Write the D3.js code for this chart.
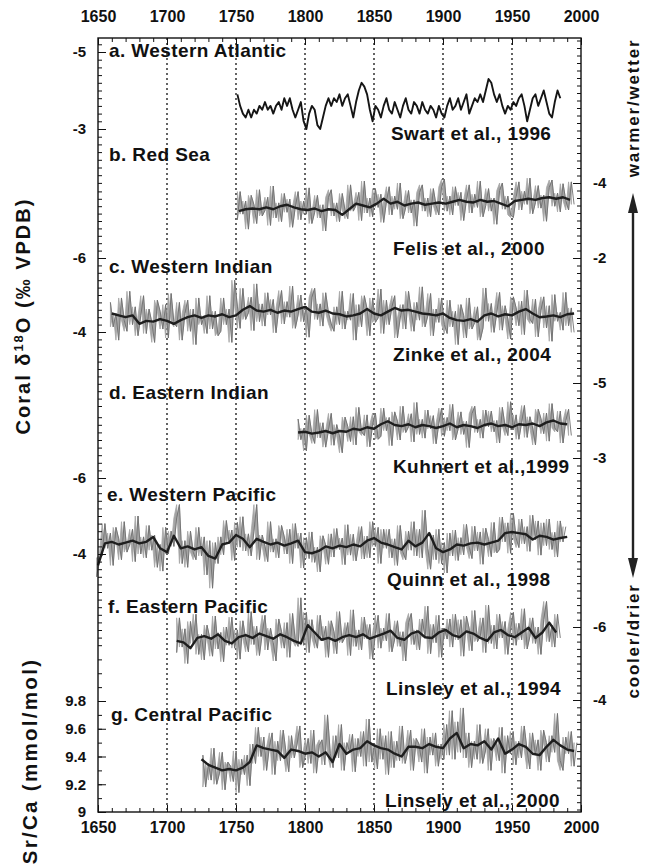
<!DOCTYPE html>
<html>
<head>
<meta charset="utf-8">
<script src="https://d3js.org/d3.v7.min.js"></script>
<style>
  body { margin: 0; background: #fff; }
  svg { display: block; font-family: "Liberation Sans", Arial, sans-serif; font-weight: bold; }
</style>
</head>
<body>
<svg></svg>
<script>
// ---- data ----
const yearTicks = [1650, 1700, 1750, 1800, 1850, 1900, 1950, 2000];
const gridYears = [1700, 1750, 1800, 1850, 1900, 1950];

const panelLabels = ["a. Western Atlantic", "b. Red Sea", "c. Western Indian", "d. Eastern Indian",
    "e. Western Pacific", "f. Eastern Pacific", "g. Central Pacific"];
const citeLabels = ["Swart et al., 1996", "Felis et al., 2000", "Zinke et al., 2004", "Kuhnert et al.,1999",
    "Quinn et al., 1998", "Linsley et al., 1994", "Linsely et al., 2000"];

const ticksA = [-5, -3];
const ticksB = [-4, -2];
const ticksC = [-6, -4];
const ticksD = [-5, -3];
const ticksE = [-6, -4];
const ticksF = [-6, -4];
const ticksG = [9, 9.2, 9.4, 9.6, 9.8];

// a. Western Atlantic (Swart), 1751-1985
const atlanticYears = [1751, 1985];
const atlanticValues = [-3.9,-3.6,-3.4,-3.3,-3.5,-3.3,-3.5,-3.4,-3.6,-3.5,
    -3.7,-3.5,-3.6,-3.4,-3.6,-3.7,-3.5,-3.8,-3.6,-3.8,
    -3.5,-3.3,-3.5,-3.7,-3.2,-3.0,-3.4,-3.6,-3.5,-3.1,
    -3.0,-3.3,-3.6,-3.8,-3.6,-3.8,-3.7,-3.9,-3.6,-3.8,
    -3.9,-3.6,-3.3,-3.7,-4.0,-4.2,-4.1,-3.9,-3.5,-3.2,
    -3.6,-3.5,-3.3,-3.6,-3.8,-3.5,-3.4,-3.7,-3.5,-3.3,
    -3.6,-3.8,-3.5,-3.4,-3.7,-3.6,-3.4,-3.7,-3.5,-3.4,
    -3.6,-3.5,-3.3,-3.6,-3.4,-3.3,-3.6,-3.8,-3.5,-3.6,
    -3.8,-3.5,-3.7,-3.9,-3.4,-3.6,-3.8,-3.7,-3.9,-3.7,
    -4.0,-4.3,-4.2,-3.9,-3.7,-3.9,-3.6,-3.4,-3.6,-3.5,
    -3.7,-3.6,-3.8,-3.9,-3.6,-3.2,-3.5,-3.8,-3.9,-3.6,
    -3.8,-4.0,-3.7,-3.4,-3.3,-3.7,-4.0,-3.8];

// b. Red Sea (Felis)
const redSeaRawYears = [1751, 1995];
const redSeaRaw = [-3.02,-3.77,-3.17,-3.52,-2.77,-3.67,-3.42,-2.92,-3.82,-3.12,
    -3.27,-3.62,-2.87,-3.92,-3.07,-3.47,-2.97,-3.72,-3.22,-3.57,
    -2.82,-3.37,-3.77,-3.02,-3.52,-3.17,-3.87,-2.92,-3.22,-3.67,
    -3.07,-3.42,-2.72,-3.62,-3.82,-3.12,-3.47,-2.97,-3.72,-3.27,
    -3.05,-3.95,-3.25,-3.4,-3.75,-3.0,-4.05,-3.2,-3.6,-3.1,
    -3.85,-3.35,-3.7,-2.95,-3.5,-3.9,-3.15,-3.65,-3.3,-4.0,
    -3.05,-3.35,-3.8,-3.2,-3.55,-2.85,-3.75,-3.95,-3.25,-3.6,
    -3.1,-3.85,-3.4,-3.15,-3.9,
    -4.1,-3.25,-3.65,-3.15,-3.9,-3.4,-3.75,-3.0,-3.55,-3.95,
    -3.2,-3.7,-3.35,-4.05,-3.1,-3.4,-3.85,-3.25,-3.6,-2.9,
    -3.8,-4.0,-3.3,-3.65,-3.15,
    -3.08,-3.63,-4.03,-3.28,-3.78,-3.43,-4.13,-3.18,-3.48,-3.93,
    -3.33,-3.68,-2.98,-3.88,-4.08,-3.38,-3.73,-3.23,-3.98,-3.53,
    -3.28,-4.03,-3.43];
const redSeaSmoothYears = [1752, 1992];
const redSeaSmooth = [-3.25,-3.30,-3.32,-3.30,-3.35,-3.30,-3.38,-3.42,-3.35,-3.30,
    -3.28,-3.32,-3.25,-3.30,-3.28,-3.15,-3.30,-3.45,-3.40,-3.35,
    -3.45,-3.58,-3.45,-3.50,-3.40,-3.45,-3.48,-3.42,-3.45,-3.48,
    -3.45,-3.50,-3.55,-3.50,-3.48,-3.55,-3.50,-3.52,-3.45,-3.38,
    -3.52,-3.55,-3.58,-3.55,-3.60,-3.62,-3.58,-3.62,-3.55];

// c. Western Indian (Zinke)
const westIndianRawYears = [1659, 1995];
const westIndianRaw = [-4.8,-4.14,-4.5,-3.78,-4.92,-4.32,-4.02,-5.1,-4.2,-4.68,
    -3.9,-4.44,-4.98,-3.96,-4.62,-4.26,-3.72,-4.86,-4.56,-4.08,
    -4.74,-3.84,-5.04,-4.26,-4.14,-4.8,-3.78,-4.5,-4.86,-4.02,
    -4.62,-3.66,-4.92,-4.2,-4.44,-3.96,-4.98,-4.08,-4.56,-3.9,
    -4.02,-4.92,-4.2,-4.62,-3.72,-5.4,
    -4.7,-4.1,-5.18,-4.34,-4.52,-4.94,-4.04,-5.3,-4.28,-4.76,
    -4.16,-5.06,-4.46,-4.88,-3.98,-4.64,-5.12,-4.22,-4.82,-4.4,
    -5.24,-4.1,-4.46,-5.0,-4.28,-4.7,-3.86,-4.94,-5.18,-4.34,
    -4.76,-4.16,-5.06,-4.52,-4.22,
    -4.02,-4.68,-4.2,-5.1,-4.08,-4.56,-4.32,-5.04,-3.78,-4.74,
    -4.14,-4.98,-4.62,-3.9,-4.92,-4.26,-4.38,-5.16,-3.96,-4.86,
    -4.2,-4.68,-4.98,-3.84,-4.38,-4.74,-4.08,-5.1,-4.56,-4.02,
    -4.8,-4.32,-5.22,-4.14,-4.44,-5.04,-3.9,-4.62,-4.26,-4.92,
    -4.2,
    -3.96,-4.86,-4.14,-4.56,-3.66,-4.74,-4.44,-3.84,-4.92,-4.08,
    -4.26,-4.68,-3.78,
    -4.11,-5.19,-4.29,-4.77,-3.99,-4.53,-5.07,-4.05,-4.71,-4.35,
    -3.81,-4.95,-4.65,-4.17,-4.83,-3.93,-5.13,-4.35,-4.23,-4.89,
    -3.87,-4.59,-4.95,-4.11,-4.71,-3.75,-5.01,-4.29,-4.53,-4.05,
    -5.07,-4.17,-4.65,-3.99];
const westIndianSmoothYears = [1660, 1995];
const westIndianSmooth = [-4.50,-4.45,-4.40,-4.45,-4.22,-4.30,-4.28,-4.35,-4.30,-4.22,
    -4.32,-4.40,-4.45,-4.38,-4.45,-4.42,-4.48,-4.40,-4.45,-4.60,
    -4.70,-4.58,-4.55,-4.60,-4.52,-4.58,-4.55,-4.62,-4.68,-4.55,
    -4.52,-4.58,-4.50,-4.48,-4.42,-4.45,-4.50,-4.62,-4.50,-4.45,
    -4.55,-4.65,-4.58,-4.60,-4.55,-4.50,-4.48,-4.45,-4.50,-4.38,
    -4.32,-4.30,-4.35,-4.28,-4.45,-4.50,-4.42,-4.48,-4.45,-4.55,
    -4.62,-4.50,-4.40,-4.42,-4.45,-4.40,-4.48,-4.50];

// d. Eastern Indian (Kuhnert)
const eastIndianRawYears = [1795, 1993];
const eastIndianRaw = [-4.04,-3.49,-3.79,-3.19,-4.14,-3.64,-3.39,-4.29,-3.54,-3.94,
    -3.29,-3.74,-4.19,-3.34,-3.89,-3.59,-3.14,-4.09,-3.84,-3.44,
    -4.1,-3.35,-4.35,-3.7,-3.6,-4.15,-3.3,-3.9,-4.2,-3.5,
    -3.58,-4.33,-3.73,-4.08,-3.33,-4.23,-3.98,-3.48,-4.38,-3.68,
    -3.83,-4.18,-3.43,-4.48,-3.63,-4.03,-3.53,-4.28,-3.78,-4.13,
    -3.38,-3.93,-4.33,-3.58,-4.08,-3.73,-4.43,-3.48,-3.78,-4.23,
    -3.63,-3.98,-3.28,-4.18,-4.38,-3.68,-4.03,-3.53,-4.28,-3.83,
    -4.25,-3.7,-4.0,-3.4,-4.35,-3.85,-3.6,-4.5,-3.75,-4.15,
    -3.5,-3.95,-4.4,-3.55,-4.1,-3.8,-3.35,-4.3,-4.05,-3.65,
    -4.2,-3.45,-4.45,-3.8,-3.7,-4.25,-3.4,-4.0,-4.3,-3.6];
const eastIndianSmoothYears = [1795, 1990];
const eastIndianSmooth = [-3.68,-3.70,-3.65,-3.68,-3.72,-3.66,-3.72,-3.70,-3.78,-3.75,
    -3.82,-3.78,-3.90,-3.98,-3.88,-3.85,-3.90,-3.82,-3.88,-3.85,
    -3.80,-3.85,-3.92,-3.82,-3.88,-3.85,-3.80,-3.88,-3.92,-3.85,
    -3.88,-3.82,-3.90,-3.88,-3.92,-3.85,-3.95,-4.00,-3.92,-3.90];

// e. Western Pacific (Quinn)
const westPacificRawYears = [1649, 1989];
const westPacificRaw = [-3.4,-3.9,
    -3.95,-4.8,-4.15,-4.55,-3.7,-4.7,-4.4,-3.85,-4.85,-4.05,-4.25,-4.65,-3.8,-5.0,-4.0,-4.45,-3.9,-4.75,
    -4.1,-4.5,-3.65,-4.25,-3.55,-4.7,
    -4.0,-4.6,-4.2,-4.95,
    -5.3,-3.75,-4.35,-3.65,-4.6,-4.05,-3.85,-4.7,-3.95,-4.45,
    -3.45,-4.35,-3.1,-4.3,-3.75,-4.45,
    -3.98,-4.88,-4.28,-4.63,-3.83,-4.83,-4.18,-4.98,-4.08,-4.53,
    -3.95,-4.6,-5.3,-3.85,-4.5,-4.2,-3.8,-4.85,-4.05,-4.4,-3.9,-4.75,-4.45,-4.0,-4.65,-3.75,-4.8,-4.15,-4.55,
    -3.63,-4.43,-3.88,-4.58,-3.78,-4.18,-3.53,-4.48,-4.23,-3.73,-4.53,
    -3.92,-4.67,-4.12,-4.42,-3.72,-4.77,-3.97,-4.52,-3.82,-4.27,-4.72,-3.87,-4.47,
    -3.9,-4.85,-4.2,-4.7,-3.75,-4.65,-4.15,
    -4.65,-3.9,-4.4,-3.7,-4.75,-4.05,-3.85,-4.6,-4.1,
    -4.85,-3.95,-4.65,-3.9,-5.15,-4.15,
    -3.6,-4.5,-3.85,-4.65,-3.75,-4.3,-3.5,-4.55,-3.95,
    -4.63,-3.83,-4.43,-3.98,-4.78,-4.18,-3.88,-4.73,-4.08,-4.58,-3.73,-4.68,-4.38,-3.93,-4.83,-4.03,
    -4.12,-4.97,-4.32,-4.82,-4.02,-5.07,-4.42,-4.17,-4.92,-4.27,-4.72,-4.07,-5.02,-4.37,-4.87,
    -3.97,-4.82,-4.22,-4.92,-4.12,-4.57,-3.92,-4.87,-4.32,-4.72];
const westPacificSmoothYears = [1650, 1990];
const westPacificSmooth = [-3.70,-4.28,-4.32,-4.25,-4.30,-4.35,-4.28,-4.32,-4.45,-4.15,
    -4.05,-4.48,-4.15,-4.20,-4.12,-4.18,-3.95,-3.88,-4.25,-4.30,
    -4.50,-4.40,-4.18,-4.40,-4.32,-4.25,-4.30,-4.22,-4.28,-4.35,
    -4.05,-4.02,-4.08,-4.20,-4.15,-4.22,-4.18,-4.25,-4.20,-4.35,
    -4.42,-4.30,-4.25,-4.18,-4.12,-4.35,-4.20,-4.30,-4.55,-4.15,
    -4.05,-4.12,-4.25,-4.22,-4.28,-4.30,-4.25,-4.30,-4.35,-4.55,
    -4.58,-4.55,-4.52,-4.38,-4.48,-4.45,-4.38,-4.42,-4.45];

// f. Eastern Pacific (Linsley 1994)
const eastPacificRawYears = [1707, 1985];
const eastPacificRaw = [-5.3,-6.25,-5.45,-5.95,-5.0,-6.15,-5.55,-6.35,-5.25,-5.8,
    -5.1,-6.05,-5.7,-5.2,-6.3,-5.4,-5.85,-5.05,-6.0,-5.5,
    -6.27,-5.42,-5.92,-5.12,-6.17,-5.67,-5.32,-6.42,-5.52,-6.02,
    -5.22,-5.82,-6.32,-5.37,-5.97,-5.57,-5.07,-6.22,-5.87,-5.42,
    -6.12,-5.17,-6.37,-5.62,-5.47,
    -6.8,-5.5,-6.4,-5.3,-6.2,-5.7,
    -5.42,-6.32,-5.62,-6.02,-5.17,-6.17,-5.87,-5.27,-6.42,-5.57,
    -5.72,-6.12,-5.22,-6.47,-5.47,-5.92,-5.37,-6.27,-5.67,-6.07,
    -5.12,-5.82,-6.32,-5.42,-5.97,-5.62,-6.37,-5.32,-5.67,-6.17,
    -5.47,-5.87,-5.07,-6.12,-6.37,-5.52,-5.92,-5.37,-6.22,-5.72,
    -6.57,-5.27,-6.07,-5.57,-6.32,-5.17,-5.97,-5.67,-6.22,
    -5.45,-6.35,-5.65,-6.2,-5.2,-6.3,-5.95,-5.35,-6.45,-5.6,
    -5.75,-6.25,-5.3,-6.6,-5.55,-6.05,-5.4,-6.35,-5.7,-6.15,
    -5.25,-5.95,-6.4,-5.5,-6.1,-5.65,-6.5,-5.4,-5.75,-6.25,
    -5.55,-6.0,-5.25,-6.2,-6.7,-5.6,-6.05,-5.45,-6.35,-5.7];
const eastPacificSmoothYears = [1707, 1982];
const eastPacificSmooth = [-5.62,-5.58,-5.42,-5.70,-5.75,-5.68,-5.80,-5.62,-5.55,-5.72,
    -5.78,-5.70,-5.82,-5.75,-5.68,-5.80,-5.72,-5.62,-5.55,-6.05,
    -5.85,-5.65,-5.70,-5.62,-5.72,-5.78,-5.72,-5.80,-5.68,-5.75,
    -5.82,-5.90,-5.70,-5.65,-5.82,-5.88,-5.72,-5.70,-5.85,-5.92,
    -5.78,-5.72,-5.88,-5.82,-5.70,-5.62,-5.85,-5.92,-5.78,-5.72,
    -5.85,-5.98,-5.70,-5.85,-6.12,-5.85];

// g. Central Pacific Sr/Ca (Linsley 2000)
const centralPacificRawYears = [1726, 1997];
const centralPacificRaw = [9.41,9.18,9.35,9.23,9.46,9.2,9.28,9.43,9.16,9.36,
    9.33,9.22,9.44,9.14,9.38,9.27,9.41,9.19,9.49,
    9.35,9.61,9.4,9.54,9.3,9.47,9.57,9.27,9.51,9.37,
    9.59,9.43,9.29,9.55,9.39,9.49,9.62,9.32,9.41,9.53,
    9.35,9.59,9.28,9.48,9.52,9.34,9.7,9.42,9.32,9.55,
    9.39,9.63,9.3,9.5,9.43,9.56,9.29,9.53,9.4,9.58,
    9.33,9.67,9.36,9.49,9.31,9.6,9.38,9.55,9.27,
    9.58,9.32,9.51,9.37,9.62,9.35,9.44,9.59,9.3,9.53,
    9.49,9.36,9.6,9.28,9.54,9.41,9.57,9.33,9.49,9.38,9.63,
    9.41,9.73,9.38,9.65,9.43,9.75,9.39,
    9.57,9.32,9.51,9.38,9.63,9.35,9.44,9.6,9.3,9.53,
    9.49,9.37,9.61,9.28,9.55,9.42,9.58,9.34,9.51,9.39,
    9.62,9.45,9.31,9.57,9.41,9.52,9.3,9.59,9.5,9.36,
    9.55,9.43,9.71,9.37,9.3,9.54,9.42,9.58,9.33,9.5];
const centralPacificSmoothYears = [1725, 1995];
const centralPacificSmooth = [9.38,9.34,9.32,9.30,9.31,9.30,9.32,9.36,9.48,9.46,
    9.45,9.44,9.39,9.45,9.44,9.42,9.43,9.40,9.43,9.36,
    9.49,9.42,9.45,9.46,9.51,9.48,9.46,9.45,9.42,9.40,
    9.47,9.47,9.46,9.49,9.47,9.46,9.53,9.57,9.46,9.49,
    9.48,9.51,9.45,9.53,9.42,9.45,9.49,9.47,9.42,9.41,
    9.47,9.52,9.48,9.45,9.44];

// ---- layout ----
const width = 646, height = 866;
const plotLeft = 98, plotRight = 581, plotTop = 38, plotBottom = 812;
const font = "Liberation Sans, Arial, Helvetica, sans-serif";

const svg = d3.select("svg");
let xScale, yScales;

const drawCanvas = () => {
    svg.attr("width", width).attr("height", height);
    svg.append("rect").attr("width", width).attr("height", height).attr("fill", "#fff");
};

const generateScales = () => {
    xScale = d3.scaleLinear().domain([1650, 2000]).range([plotLeft, plotRight]);
    yScales = {
        a: d3.scaleLinear().domain([-5, -3]).range([52, 129]),
        b: d3.scaleLinear().domain([-4, -2]).range([183, 258]),
        c: d3.scaleLinear().domain([-6, -4]).range([258, 332]),
        d: d3.scaleLinear().domain([-5, -3]).range([383, 458]),
        e: d3.scaleLinear().domain([-6, -4]).range([478, 554]),
        f: d3.scaleLinear().domain([-6, -4]).range([627, 700]),
        g: d3.scaleLinear().domain([9, 9.8]).range([812, 701])
    };
};

const withYears = (values, span) =>
    values.map((v, i) => [span[0] + (i * (span[1] - span[0])) / (values.length - 1), v]);

const drawGrid = () => {
    svg.append("g")
        .selectAll("line")
        .data(gridYears)
        .enter()
        .append("line")
        .attr("x1", (d) => xScale(d))
        .attr("x2", (d) => xScale(d))
        .attr("y1", plotTop)
        .attr("y2", plotBottom)
        .attr("stroke", "#111")
        .attr("stroke-width", 1.3)
        .attr("stroke-dasharray", "2,3");
};

const drawSeries = (values, span, yScale, color, widthPx) => {
    const line = d3.line()
        .x((d) => xScale(d[0]))
        .y((d) => yScale(d[1]));
    svg.append("path")
        .datum(withYears(values, span))
        .attr("d", line)
        .attr("fill", "none")
        .attr("stroke", color)
        .attr("stroke-width", widthPx)
        .attr("stroke-linejoin", "round");
};

// raw record: fill between neighbouring samples for the grey body, thin strokes for the spikes
const drawRaw = (values, span, yScale) => {
    const pts = withYears(values, span);
    const area = d3.area()
        .x((p) => xScale(p[0][0]))
        .y0((p) => yScale(p[0][1]))
        .y1((p) => yScale(p[1][1]));
    svg.append("path")
        .datum(d3.pairs(pts))
        .attr("d", area)
        .attr("fill", "#a4a4a4")
        .attr("stroke", "#a4a4a4")
        .attr("stroke-width", 0.8);
    drawSeries(values, span, yScale, "#6f6f6f", 0.9);
};

const drawData = () => {
    const dark = "#1e1e1e", sw = 2.4;
    drawSeries(atlanticValues, atlanticYears, yScales.a, "#151515", 1.9);

    drawRaw(redSeaRaw, redSeaRawYears, yScales.b);
    drawSeries(redSeaSmooth, redSeaSmoothYears, yScales.b, dark, sw);

    drawRaw(westIndianRaw, westIndianRawYears, yScales.c);
    drawSeries(westIndianSmooth, westIndianSmoothYears, yScales.c, dark, sw);

    drawRaw(eastIndianRaw, eastIndianRawYears, yScales.d);
    drawSeries(eastIndianSmooth, eastIndianSmoothYears, yScales.d, dark, sw);

    drawRaw(westPacificRaw, westPacificRawYears, yScales.e);
    drawSeries(westPacificSmooth, westPacificSmoothYears, yScales.e, dark, sw);

    drawRaw(eastPacificRaw, eastPacificRawYears, yScales.f);
    drawSeries(eastPacificSmooth, eastPacificSmoothYears, yScales.f, dark, sw);

    drawRaw(centralPacificRaw, centralPacificRawYears, yScales.g);
    drawSeries(centralPacificSmooth, centralPacificSmoothYears, yScales.g, dark, sw);
};

// minor tick values inside a pixel band of the axis
const minorTicks = (scale, band, step) => {
    const a = scale.invert(band[0]), b = scale.invert(band[1]);
    const lo = Math.min(a, b), hi = Math.max(a, b);
    return d3.range(Math.ceil(lo / step - 1e-6), Math.floor(hi / step + 1e-6) + 1)
        .map((k) => +(k * step).toFixed(2));
};

const styleAxis = (g, size) => {
    g.select(".domain").remove();
    g.attr("font-family", font).attr("font-size", size).attr("font-weight", "bold");
    g.selectAll("line").attr("stroke", "#111");
    g.selectAll("text").attr("fill", "#111");
};

const generateAxes = () => {
    const minorYears = d3.range(1650, 2001, 10);

    // top axis
    svg.append("g")
        .attr("transform", "translate(0," + plotTop + ")")
        .call(d3.axisTop(xScale).tickValues(minorYears).tickSize(-4).tickFormat(""))
        .call((g) => styleAxis(g, 16));
    svg.append("g")
        .attr("transform", "translate(0," + plotTop + ")")
        .call(d3.axisTop(xScale).tickValues(yearTicks).tickSize(-7).tickPadding(16).tickFormat(d3.format("d")))
        .call((g) => styleAxis(g, 16));

    // bottom axis
    svg.append("g")
        .attr("transform", "translate(0," + plotBottom + ")")
        .call(d3.axisBottom(xScale).tickValues(minorYears).tickSize(-4).tickFormat(""))
        .call((g) => styleAxis(g, 16));
    svg.append("g")
        .attr("transform", "translate(0," + plotBottom + ")")
        .call(d3.axisBottom(xScale).tickValues(yearTicks).tickSize(-7).tickPadding(10).tickFormat(d3.format("d")))
        .call((g) => styleAxis(g, 16));

    const fmt = (d) => String(d);
    const leftParts = [
        [yScales.a, ticksA, [38, 190], 0.2],
        [yScales.c, ticksC, [190, 410], 0.2],
        [yScales.e, ticksE, [410, 652], 0.2],
        [yScales.g, ticksG, [652, 812], 0.1]
    ];
    leftParts.forEach(([scale, labels, band, step]) => {
        svg.append("g")
            .attr("transform", "translate(" + plotLeft + ",0)")
            .call(d3.axisLeft(scale).tickValues(minorTicks(scale, band, step)).tickSize(-4).tickFormat(""))
            .call((g) => styleAxis(g, 15));
        svg.append("g")
            .attr("transform", "translate(" + plotLeft + ",0)")
            .call(d3.axisLeft(scale).tickValues(labels).tickSize(-8).tickPadding(12).tickFormat(fmt))
            .call((g) => styleAxis(g, 15));
    });

    const rightParts = [
        [yScales.b, ticksB, [38, 320]],
        [yScales.d, ticksD, [320, 545]],
        [yScales.f, ticksF, [545, 812]]
    ];
    rightParts.forEach(([scale, labels, band]) => {
        svg.append("g")
            .attr("transform", "translate(" + plotRight + ",0)")
            .call(d3.axisRight(scale).tickValues(minorTicks(scale, band, 0.2)).tickSize(-4).tickFormat(""))
            .call((g) => styleAxis(g, 15));
        svg.append("g")
            .attr("transform", "translate(" + plotRight + ",0)")
            .call(d3.axisRight(scale).tickValues(labels).tickSize(-8).tickPadding(12).tickFormat(fmt))
            .call((g) => styleAxis(g, 15));
    });

    svg.append("rect")
        .attr("x", plotLeft)
        .attr("y", plotTop)
        .attr("width", plotRight - plotLeft)
        .attr("height", plotBottom - plotTop)
        .attr("fill", "none")
        .attr("stroke", "#111")
        .attr("stroke-width", 1.4);
};

const drawLabels = () => {
    const labelX = [109, 109, 109, 109, 107, 108, 111];
    const labelY = [57, 161, 273, 399, 501, 613, 721];
    const citeX = [391, 393, 393, 393, 387, 386, 385];
    const citeY = [140, 255, 361, 473, 586, 695, 807];

    svg.append("g")
        .selectAll("text")
        .data(panelLabels)
        .enter()
        .append("text")
        .attr("x", (d, i) => labelX[i])
        .attr("y", (d, i) => labelY[i])
        .attr("font-size", 19)
        .attr("letter-spacing", 0.4)
        .attr("fill", "#111")
        .text((d) => d);

    svg.append("g")
        .selectAll("text")
        .data(citeLabels)
        .enter()
        .append("text")
        .attr("x", (d, i) => citeX[i])
        .attr("y", (d, i) => citeY[i])
        .attr("font-size", 19)
        .attr("letter-spacing", 0.4)
        .attr("fill", "#111")
        .text((d) => d);

    // left titles
    const coral = svg.append("text")
        .attr("transform", "translate(30,316) rotate(-90)")
        .attr("text-anchor", "middle")
        .attr("font-size", 20)
        .attr("letter-spacing", 2)
        .attr("fill", "#111");
    coral.append("tspan").text("Coral δ");
    coral.append("tspan").attr("font-size", 13).attr("dy", -7).text("18");
    coral.append("tspan").attr("dy", 7).text("O (‰ VPDB)");

    svg.append("text")
        .attr("transform", "translate(37,761) rotate(-90)")
        .attr("text-anchor", "middle")
        .attr("font-size", 20.5)
        .attr("letter-spacing", 2.3)
        .attr("fill", "#111")
        .text("Sr/Ca (mmol/mol)");

    // right titles and arrow
    svg.append("text")
        .attr("transform", "translate(639,108) rotate(-90)")
        .attr("text-anchor", "middle")
        .attr("font-size", 17)
        .attr("letter-spacing", 1.8)
        .attr("fill", "#111")
        .text("warmer/wetter");
    svg.append("text")
        .attr("transform", "translate(639,641) rotate(-90)")
        .attr("text-anchor", "middle")
        .attr("font-size", 17)
        .attr("letter-spacing", 1.8)
        .attr("fill", "#111")
        .text("cooler/drier");

    const ax = 633, aTop = 193, aBottom = 578;
    svg.append("line")
        .attr("x1", ax).attr("x2", ax)
        .attr("y1", aTop + 12).attr("y2", aBottom - 12)
        .attr("stroke", "#222").attr("stroke-width", 2.4);
    svg.append("path")
        .attr("d", `M${ax},${aTop} L${ax - 5},${aTop + 20} L${ax + 5},${aTop + 20} Z`)
        .attr("fill", "#222");
    svg.append("path")
        .attr("d", `M${ax},${aBottom} L${ax - 5},${aBottom - 20} L${ax + 5},${aBottom - 20} Z`)
        .attr("fill", "#222");
};

drawCanvas();
generateScales();
drawGrid();
drawData();
generateAxes();
drawLabels();
</script>
</body>
</html>
